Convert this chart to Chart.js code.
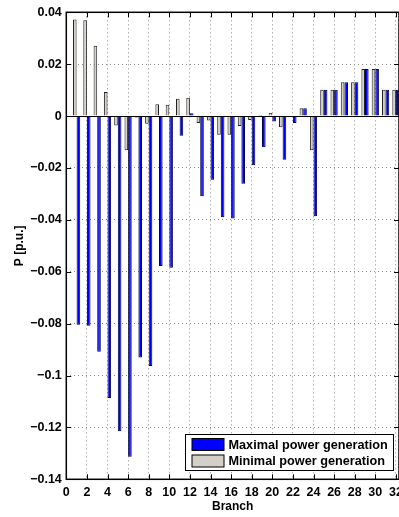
<!DOCTYPE html>
<html>
<head>
<meta charset="utf-8">
<script src="https://cdn.jsdelivr.net/npm/chart.js@4"></script>
<style>
  html, body { margin: 0; padding: 0; background: #fff; overflow: hidden; }
  #wrap { position: relative; width: 399px; height: 517px; }
</style>
</head>
<body>
<div id="wrap"><canvas id="branch-chart"></canvas></div>
<script>
// branch numbers and active power flows [p.u.]
var branches = [1, 2, 3, 4, 5, 6, 7, 8, 9, 10, 11, 12, 13, 14, 15, 16,
                17, 18, 19, 20, 21, 22, 23, 24, 25, 26, 27, 28, 29, 30, 31, 32];
var maxGen = [-0.0804, -0.0808, -0.0908, -0.1087, -0.1215, -0.1313, -0.0931, -0.0963,
              -0.0578, -0.0585, -0.0076, 0.0011, -0.0309, -0.0245, -0.0390, -0.0395,
              -0.0261, -0.0190, -0.0120, -0.0021, -0.0168, -0.0027, 0.0030, -0.0386,
              0.0101, 0.0101, 0.0130, 0.0130, 0.0181, 0.0181, 0.0101, 0.0101];
var minGen = [0.0372, 0.0369, 0.0271, 0.0093, -0.0036, -0.0132, -0.0005, -0.0030,
              0.0046, 0.0044, 0.0067, 0.0071, -0.0027, -0.0017, -0.0072, -0.0072,
              -0.0038, -0.0015, 0.0004, 0.0013, -0.0043, -0.0004, 0.0030, -0.0132,
              0.0101, 0.0101, 0.0130, 0.0130, 0.0181, 0.0181, 0.0101, 0.0101];
var legendLabels = ['Maximal power generation', 'Minimal power generation'];

var FONT = "'Liberation Sans', Arial, Helvetica, sans-serif";
var BLUE = '#0000ff';
var GRAY = '#d4d0c8';

function pairs(vals) {
    var out = [];
    branches.forEach(function(b, i) { out.push({x: b, y: vals[i]}); });
    return out;
}

// box, inward ticks, zero baseline and the legend, matlab style
var matlabAxes = {
    id: 'matlabAxes',
    afterDatasetsDraw: function(chart) {
        var ctx = chart.ctx, a = chart.chartArea, y0 = chart.scales.y.getPixelForValue(0);
        ctx.save();
        ctx.strokeStyle = '#000';
        ctx.lineWidth = 1;
        ctx.beginPath();
        ctx.moveTo(a.left, Math.round(y0) + 0.5);
        ctx.lineTo(a.right, Math.round(y0) + 0.5);
        ctx.stroke();
        ctx.restore();
    },
    afterDraw: function(chart) {
        var ctx = chart.ctx, a = chart.chartArea;
        var xs = chart.scales.x, ys = chart.scales.y;
        ctx.save();
        ctx.strokeStyle = '#000';
        ctx.lineWidth = 1.5;
        ctx.strokeRect(a.left, a.top, a.right - a.left, a.bottom - a.top);
        ctx.lineWidth = 1;
        ctx.beginPath();
        xs.ticks.forEach(function(t) {
            var px = Math.round(xs.getPixelForValue(t.value)) + 0.5;
            ctx.moveTo(px, a.bottom); ctx.lineTo(px, a.bottom - 5);
            ctx.moveTo(px, a.top); ctx.lineTo(px, a.top + 5);
        });
        ys.ticks.forEach(function(t) {
            var py = Math.round(ys.getPixelForValue(t.value)) + 0.5;
            ctx.moveTo(a.left, py); ctx.lineTo(a.left + 5, py);
            ctx.moveTo(a.right, py); ctx.lineTo(a.right - 5, py);
        });
        ctx.stroke();

        // legend box
        var lx = 185.5, ly = 434.5, lw = 208, lh = 36;
        ctx.fillStyle = '#fff';
        ctx.fillRect(lx, ly, lw, lh);
        ctx.strokeRect(lx, ly, lw, lh);
        var fills = [BLUE, GRAY];
        ctx.font = 'bold 12.7px ' + FONT;
        ctx.textBaseline = 'middle';
        legendLabels.forEach(function(lab, i) {
            var sy = ly + 4 + i * 16.5;
            ctx.fillStyle = fills[i];
            ctx.fillRect(lx + 6.5, sy, 32, 12);
            ctx.strokeRect(lx + 6.5, sy, 32, 12);
            ctx.fillStyle = '#000';
            ctx.fillText(lab, lx + 43, sy + 6.5);
        });
        ctx.restore();
    }
};

new Chart(document.getElementById('branch-chart'), {
    type: 'bar',
    data: {
        datasets: [{
            label: 'Minimal power generation',
            data: pairs(minGen),
            backgroundColor: GRAY,
            borderColor: '#222',
            borderWidth: 1,
            categoryPercentage: 0.7,
            barPercentage: 1.0
        }, {
            label: 'Maximal power generation',
            data: pairs(maxGen),
            backgroundColor: BLUE,
            borderColor: '#000050',
            borderWidth: 1,
            categoryPercentage: 0.7,
            barPercentage: 1.0
        }]
    },
    options: {
        responsive: true,
        maintainAspectRatio: false,
        animation: false,
        layout: { padding: { left: 8, top: 12.3, right: 0, bottom: 0 } },
        plugins: {
            legend: { display: false },
            tooltip: { enabled: false }
        },
        scales: {
            x: {
                type: 'linear',
                min: 0,
                max: 32.3,
                offset: false,
                grid: { offset: false, drawTicks: false, color: '#8c8c8c', lineWidth: 1 },
                border: { display: false, dash: [1, 3] },
                ticks: {
                    stepSize: 2,
                    includeBounds: false,
                    padding: 5.5,
                    maxRotation: 0,
                    color: '#000',
                    font: { family: FONT, size: 12.5, weight: 'bold' },
                    callback: function(v) { return String(v); }
                },
                title: {
                    display: true,
                    text: 'Branch',
                    color: '#000',
                    padding: { top: 0, bottom: 3 },
                    font: { family: FONT, size: 12, weight: 'bold' }
                },
                afterFit: function(s) { s.paddingLeft = 0; s.paddingRight = 0; s.height = 517 - 479.3; }
            },
            y: {
                min: -0.14,
                max: 0.04,
                grid: { drawTicks: false, color: '#8c8c8c', lineWidth: 1 },
                border: { display: false, dash: [1, 3] },
                ticks: {
                    stepSize: 0.02,
                    padding: 4.5,
                    color: '#000',
                    font: { family: FONT, size: 12.5, weight: 'bold' },
                    callback: function(v) {
                        var r = Math.round(v * 100) / 100;
                        if (r === 0) return '0';
                        return (r < 0 ? '\u2212' : '') + Math.abs(r);
                    }
                },
                title: {
                    display: true,
                    text: 'P [p.u.]',
                    color: '#000',
                    padding: { top: 4, bottom: 0 },
                    font: { family: FONT, size: 12, weight: 'bold' }
                },
                afterFit: function(s) { s.paddingTop = 0; s.paddingBottom = 0; s.width = 66.3 - 8; }
            }
        }
    },
    plugins: [matlabAxes]
});
</script>
</body>
</html>
